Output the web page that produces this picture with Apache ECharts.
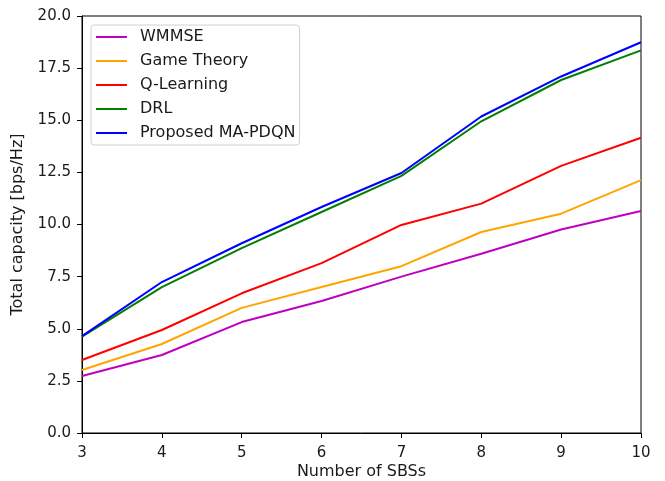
<!DOCTYPE html>
<html>
<head>
<meta charset="utf-8">
<script src="https://cdn.jsdelivr.net/npm/echarts@6/dist/echarts.min.js"></script>
<style>html,body{margin:0;padding:0;background:#fff}#c{width:665px;height:481px}</style>
</head>
<body>
<div id="c"></div>
<script>
var sbs = [3, 4, 5, 6, 7, 8, 9, 10];
var wmmse = [2.73, 3.74, 5.32, 6.33, 7.5, 8.6, 9.76, 10.65];
var gameTheory = [3.02, 4.27, 6.0, 7.0, 8.0, 9.64, 10.52, 12.13];
var qLearning = [3.5, 4.94, 6.7, 8.15, 9.98, 11.0, 12.81, 14.16];
var drl = [4.62, 7.0, 8.87, 10.6, 12.33, 14.95, 16.93, 18.35];
var proposed = [4.65, 7.24, 9.1, 10.84, 12.47, 15.18, 17.1, 18.74];
var yTicks = [0, 2.5, 5, 7.5, 10, 12.5, 15, 17.5, 20];

var names = ['WMMSE', 'Game Theory', 'Q-Learning', 'DRL', 'Proposed MA-PDQN'];
var colors = ['#bf00bf', '#ffa500', '#ff0000', '#008000', '#0000ff'];
var values = [wmmse, gameTheory, qLearning, drl, proposed];

function pairs(v) { return sbs.map(function (x, i) { return [x, v[i]]; }); }

var font = '"DejaVu Sans", sans-serif';
var chart = echarts.init(document.getElementById('c'));
chart.setOption({
  animation: false,
  textStyle: { fontFamily: font },
  grid: { left: 82, right: 24, top: 16, bottom: 48, show: true, borderColor: '#000', borderWidth: 1,
    containLabel: false, outerBoundsMode: 'none' },
  legend: {
    orient: 'vertical', left: 91, top: 25,
    data: names,
    icon: 'rect',
    itemWidth: 31, itemHeight: 2, itemGap: 6,
    padding: [3, 4, 3, 5],
    borderColor: '#d0d0d0', borderWidth: 1, borderRadius: 3,
    backgroundColor: 'rgba(255,255,255,0.8)',
    textStyle: { fontFamily: font, fontSize: 16, lineHeight: 18, color: '#1a1a1a', padding: [0, 0, 0, 8] }
  },
  xAxis: {
    type: 'value', min: 3, max: 10, interval: 1,
    name: 'Number of SBSs', nameLocation: 'middle', nameGap: 31, nameMoveOverlap: false,
    nameTextStyle: { fontFamily: font, fontSize: 16, color: '#1a1a1a' },
    axisLine: { lineStyle: { color: '#000' } },
    axisTick: { show: true, length: 5, lineStyle: { color: '#000' } },
    axisLabel: { fontFamily: font, fontSize: 15, color: '#1a1a1a', margin: 13 },
    splitLine: { show: false }
  },
  yAxis: {
    type: 'value', min: yTicks[0], max: yTicks[yTicks.length - 1], interval: 2.5,
    name: 'Total capacity [bps/Hz]', nameLocation: 'middle', nameGap: 56, nameRotate: 90, nameMoveOverlap: false,
    nameTextStyle: { fontFamily: font, fontSize: 16, color: '#1a1a1a' },
    axisLine: { show: true, lineStyle: { color: '#000' } },
    axisTick: { show: true, length: 5, lineStyle: { color: '#000' } },
    axisLabel: { fontFamily: font, fontSize: 15, color: '#1a1a1a', margin: 11,
      formatter: function (v) { return v.toFixed(1); } },
    splitLine: { show: false }
  },
  series: names.map(function (n, i) {
    return {
      name: n, type: 'line', data: pairs(values[i]),
      symbol: 'none', color: colors[i],
      lineStyle: { width: 2, color: colors[i] }
    };
  })
});
</script>
</body>
</html>
